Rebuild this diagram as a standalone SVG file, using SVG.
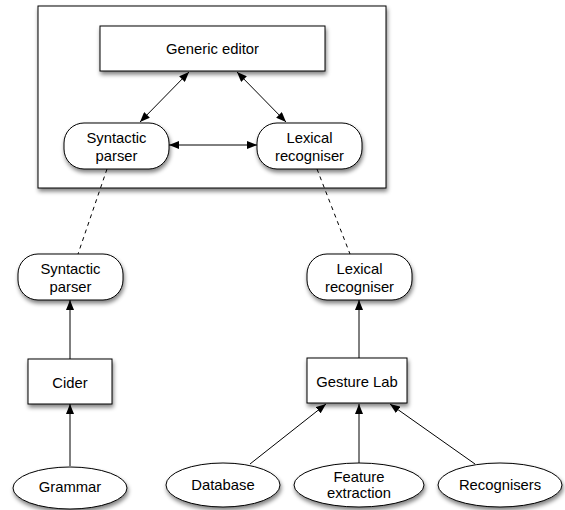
<svg xmlns="http://www.w3.org/2000/svg" width="565" height="510" viewBox="0 0 565 510">
<style>
.n{fill:#fff;stroke:#000;stroke-width:1;filter:url(#sh)}
.t{font-family:"Liberation Sans",Arial,sans-serif;font-size:14.8px;text-anchor:middle;fill:#000}
.c{stroke:#000;stroke-width:1;fill:none}
.a{marker-end:url(#ah)}
.b{marker-start:url(#ahs);marker-end:url(#ah)}
.d{stroke-dasharray:4,4}
</style>
<defs>
<filter id="sh" x="-20%" y="-20%" width="140%" height="150%">
<feGaussianBlur in="SourceAlpha" stdDeviation="2"/>
<feOffset dx="1" dy="3" result="o"/>
<feComponentTransfer><feFuncA type="linear" slope="0.5"/></feComponentTransfer>
<feMerge><feMergeNode/><feMergeNode in="SourceGraphic"/></feMerge>
</filter>
<marker id="ah" markerWidth="10" markerHeight="8" refX="10" refY="4" orient="auto" markerUnits="userSpaceOnUse"><path d="M0,0 L10,4 L0,8 Z" fill="#000"/></marker>
<marker id="ahs" markerWidth="10" markerHeight="8" refX="0" refY="4" orient="auto" markerUnits="userSpaceOnUse"><path d="M10,0 L0,4 L10,8 Z" fill="#000"/></marker>
</defs>
<g id="container"><rect class="n" x="38" y="6" width="348" height="182"/></g>
<g id="connectors">
<line class="c b" x1="189" y1="72" x2="140" y2="122"/>
<line class="c b" x1="237" y1="72" x2="286" y2="122"/>
<line class="c b" x1="169" y1="145" x2="257" y2="145"/>
<line class="c d" x1="107" y1="169" x2="78" y2="254"/>
<line class="c d" x1="317" y1="169" x2="350" y2="254"/>
<line class="c a" x1="70" y1="359" x2="70" y2="300"/>
<line class="c a" x1="70" y1="466" x2="70" y2="404"/>
<line class="c a" x1="359" y1="358" x2="359" y2="300"/>
<line class="c a" x1="250" y1="464" x2="326" y2="404"/>
<line class="c a" x1="359" y1="463" x2="359" y2="404"/>
<line class="c a" x1="475" y1="464" x2="390" y2="404"/>
</g>
<g id="generic-editor"><rect class="n" x="100" y="26" width="225" height="45"/><text class="t" x="212.5" y="54">Generic editor</text></g>
<g id="syntactic-parser-top"><rect class="n" x="64" y="123" width="105" height="46" rx="20"/><text class="t" x="116.5" y="143">Syntactic</text><text class="t" x="116.5" y="161">parser</text></g>
<g id="lexical-recogniser-top"><rect class="n" x="257" y="123" width="105" height="46" rx="20"/><text class="t" x="309.5" y="143">Lexical</text><text class="t" x="309.5" y="161">recogniser</text></g>
<g id="syntactic-parser"><rect class="n" x="18" y="254" width="105" height="46" rx="20"/><text class="t" x="70.5" y="274">Syntactic</text><text class="t" x="70.5" y="292">parser</text></g>
<g id="lexical-recogniser"><rect class="n" x="307" y="254" width="105" height="46" rx="20"/><text class="t" x="359.5" y="274">Lexical</text><text class="t" x="359.5" y="292">recogniser</text></g>
<g id="cider"><rect class="n" x="28" y="359" width="84" height="45"/><text class="t" x="70" y="388">Cider</text></g>
<g id="gesture-lab"><rect class="n" x="307" y="358" width="100" height="45"/><text class="t" x="357" y="387">Gesture Lab</text></g>
<g id="grammar"><ellipse class="n" cx="70" cy="488" rx="57" ry="21"/><text class="t" x="70" y="492">Grammar</text></g>
<g id="database"><ellipse class="n" cx="223" cy="485" rx="57" ry="22"/><text class="t" x="223" y="490">Database</text></g>
<g id="feature-extraction"><ellipse class="n" cx="359" cy="485" rx="65" ry="22"/><text class="t" x="359" y="482">Feature</text><text class="t" x="359" y="498">extraction</text></g>
<g id="recognisers"><ellipse class="n" cx="500" cy="485" rx="62" ry="22"/><text class="t" x="500" y="490">Recognisers</text></g>
</svg>
